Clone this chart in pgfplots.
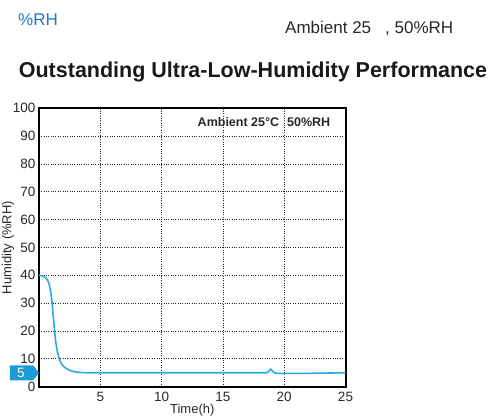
\documentclass[border=0pt]{standalone}
\usepackage{fontspec}
\setmainfont{Liberation Sans}
\usepackage{pgfplots}
\pgfplotsset{compat=1.18}
\definecolor{curve}{RGB}{41,171,226}
\definecolor{tag}{RGB}{27,155,215}
\definecolor{topblue}{RGB}{30,120,200}
\definecolor{txt}{RGB}{40,40,40}
\begin{document}
\begin{tikzpicture}
\path[use as bounding box] (0pt,0pt) rectangle (492pt,418pt);
\node[anchor=west, text=topblue, font=\fontsize{17}{17}\selectfont, inner sep=0] at (18pt,398pt) {\%RH};
\node[anchor=west, text=txt, font=\fontsize{17}{17}\selectfont, inner sep=0] at (285pt,390pt) {Ambient 25\hspace{14pt}, 50\%RH};
\node[font=\bfseries\fontsize{21.5}{21.5}\selectfont, text=black!90, inner sep=0] at (253pt,346pt) {Outstanding Ultra-Low-Humidity Performance};
\begin{axis}[
  at={(39pt,31.3pt)}, anchor=south west,
  scale only axis, width=306.5pt, height=278.4pt,
  xmin=0, xmax=25, ymin=0, ymax=100,
  xtick={5,10,15,20,25}, ytick={0,10,...,100},
  grid=major,
  major grid style={black!85, line width=0.75pt, dash pattern=on 0.75pt off 1.6pt},
  axis line style={line width=2pt, black},
  major tick length=0pt,
  tick label style={font=\fontsize{13.5}{13.5}\selectfont, text=txt},
  xticklabel style={yshift=-2pt},
  /pgf/number format/assume math mode=true,
  xlabel={Time(h)}, ylabel={Humidity (\%RH)},
  xlabel style={font=\fontsize{13}{13}\selectfont, text=txt, at={(axis description cs:0.5,0)}, anchor=center, yshift=-23pt},
  ylabel style={font=\fontsize{13}{13}\selectfont, text=txt, at={(axis description cs:-0.101,0.5)}, anchor=center},
  clip=false,
]
\addplot[curve, line width=1.6pt] coordinates {
(0,40) (0.3,39.8) (0.5,39.3) (0.7,38.3) (0.85,36.5) (0.95,34) (1.05,31) (1.15,26) (1.25,21) (1.35,16.5) (1.5,12.5) (1.65,10) (1.8,8.5) (2.0,7.3) (2.3,6.3) (2.6,5.7) (3.0,5.3) (3.5,5.1) (4,5) (10,5) (15,5) (18.6,5) (18.8,5.8) (18.9,6.3) (19.0,5.8) (19.2,5.0) (19.4,4.8) (22,4.8) (23.5,4.9) (25,5.0)
};
\fill[tag] (axis cs:0,5) -- ++(-6pt,7.5pt) -- ++(-23pt,0pt) -- ++(0pt,-15pt) -- ++(23pt,0pt) -- cycle;
\node[text=white, font=\fontsize{13.5}{13.5}\selectfont] at (axis cs:0,5) [xshift=-18pt] {5};
\node[font=\bfseries\fontsize{12.5}{12.5}\selectfont, text=txt] at (axis cs:18.35,95.1) {Ambient 25°C\hspace{8pt}50\%RH};
\end{axis}
\end{tikzpicture}
\end{document}
